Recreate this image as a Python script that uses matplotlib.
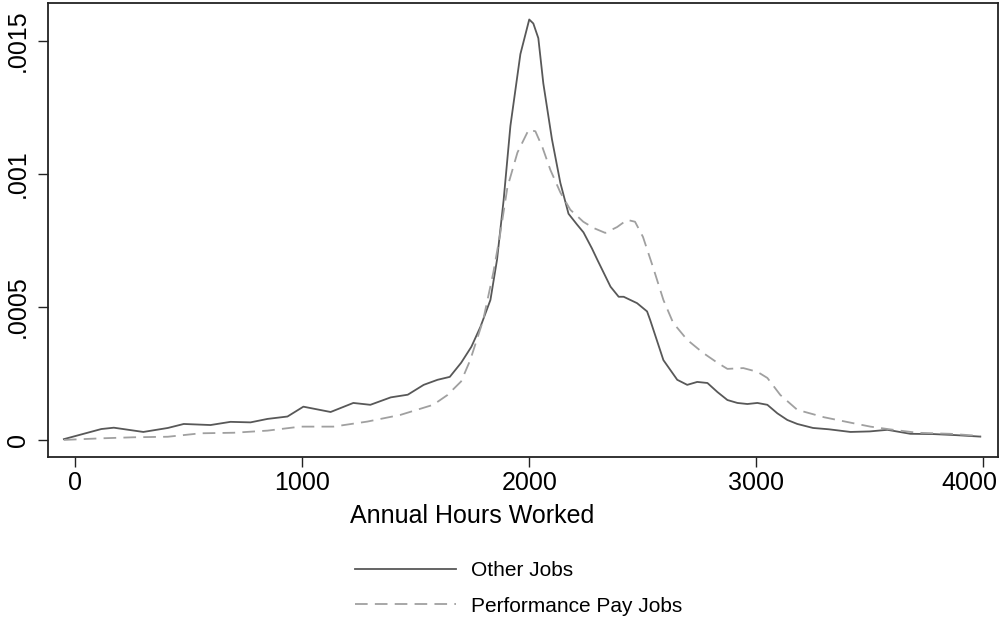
import matplotlib
matplotlib.use("Agg")
import matplotlib.pyplot as plt
from matplotlib.transforms import ScaledTranslation

plt.rcParams['font.family'] = ['Liberation Sans', 'DejaVu Sans']

# Kernel density estimates of annual hours worked
other_hours = [-50, 115, 170, 300, 408, 478, 596, 684, 772, 847, 935, 1005, 1125,
               1225, 1300, 1390, 1465, 1535, 1596, 1650, 1700, 1745, 1785, 1829,
               1858, 1887, 1917, 1961, 2000, 2018, 2040, 2062, 2100, 2137, 2173,
               2210, 2239, 2276, 2300, 2358, 2394, 2416, 2475, 2519, 2533, 2591,
               2652, 2696, 2740, 2785, 2829, 2873, 2917, 2961, 3005, 3049, 3093,
               3137, 3181, 3250, 3320, 3415, 3500, 3578, 3679, 3780, 3880, 3987]
other_density = [3e-6, 4.1e-5, 4.6e-5, 3.0e-5, 4.5e-5, 6.0e-5, 5.6e-5, 6.8e-5,
                 6.6e-5, 7.9e-5, 8.8e-5, 1.25e-4, 1.05e-4, 1.39e-4, 1.32e-4,
                 1.6e-4, 1.7e-4, 2.07e-4, 2.26e-4, 2.37e-4, 2.9e-4, 3.5e-4,
                 4.25e-4, 5.26e-4, 6.77e-4, 9.0e-4, 1.18e-3, 1.45e-3, 1.58e-3,
                 1.565e-3, 1.51e-3, 1.34e-3, 1.13e-3, 9.66e-4, 8.5e-4, 8.1e-4,
                 7.8e-4, 7.2e-4, 6.77e-4, 5.76e-4, 5.38e-4, 5.38e-4, 5.14e-4,
                 4.83e-4, 4.5e-4, 3.0e-4, 2.26e-4, 2.07e-4, 2.18e-4, 2.14e-4,
                 1.8e-4, 1.5e-4, 1.39e-4, 1.35e-4, 1.39e-4, 1.32e-4, 1.0e-4,
                 7.5e-5, 6.0e-5, 4.5e-5, 4.0e-5, 3.0e-5, 3.2e-5, 3.8e-5, 2.3e-5,
                 2.2e-5, 1.8e-5, 1.25e-5]

perf_hours = [-50, 113, 258, 408, 553, 698, 847, 992, 1137, 1287, 1432, 1577, 1640,
              1700, 1740, 1797, 1842, 1873, 1904, 1948, 1997, 2027, 2058, 2093,
              2137, 2181, 2238, 2282, 2335, 2387, 2431, 2466, 2501, 2545, 2591,
              2634, 2696, 2766, 2829, 2873, 2943, 3005, 3049, 3106, 3181, 3300,
              3415, 3503, 3604, 3710, 3855, 3987]
perf_density = [0, 6e-6, 1e-5, 1.2e-5, 2.5e-5, 2.7e-5, 3.5e-5, 5e-5, 5e-5, 6.9e-5,
                9.4e-5, 1.32e-4, 1.69e-4, 2.2e-4, 3.0e-4, 4.5e-4, 6.3e-4, 7.8e-4,
                9.5e-4, 1.08e-3, 1.165e-3, 1.16e-3, 1.10e-3, 1.015e-3, 9.3e-4,
                8.65e-4, 8.2e-4, 7.97e-4, 7.78e-4, 8.0e-4, 8.27e-4, 8.2e-4,
                7.63e-4, 6.5e-4, 5.26e-4, 4.4e-4, 3.76e-4, 3.27e-4, 2.9e-4,
                2.67e-4, 2.7e-4, 2.56e-4, 2.33e-4, 1.69e-4, 1.13e-4, 8.5e-5,
                6.5e-5, 5e-5, 3.8e-5, 2.7e-5, 2.3e-5, 1.5e-5]

x_ticks = [0, 1000, 2000, 3000, 4000]
x_tick_labels = ["0", "1000", "2000", "3000", "4000"]
y_ticks = [0, 0.0005, 0.001, 0.0015]
y_tick_labels = ["0", ".0005", ".001", ".0015"]

W, H = 1002, 620
fig = plt.figure(figsize=(W / 100, H / 100), dpi=100)
fig.patch.set_facecolor("white")

left, right, top, bottom = 48, 998, 3, 456.7
ax = fig.add_axes([left / W, 1 - bottom / H, (right - left) / W, (bottom - top) / H])

ax.plot(other_hours, other_density, color="#585858", lw=1.3,
        solid_joinstyle="round", label="Other Jobs")
ax.plot(perf_hours, perf_density, color="#a0a0a0", lw=1.3,
        dashes=(7.0, 4.0), label="Performance Pay Jobs")

ax.set_xlim(-120, 4065)
ax.set_ylim(-6.3e-5, 1.642e-3)

ax.set_xticks(x_ticks)
ax.set_xticklabels(x_tick_labels, fontsize=18)
ax.set_yticks(y_ticks)
ax.set_yticklabels(y_tick_labels, fontsize=18, rotation=90, va="center")

ax.tick_params(axis="both", direction="out", length=7.5, width=1.0, color="#222222")
ax.tick_params(axis="x", pad=3)
ax.tick_params(axis="y", pad=5.5)

# keep the last x tick label inside the canvas
last = ax.get_xticklabels()[-1]
last.set_transform(last.get_transform() + ScaledTranslation(-14 / 100, 0, fig.dpi_scale_trans))

for side in ["left", "right", "top", "bottom"]:
    ax.spines[side].set_linewidth(1.3)
    ax.spines[side].set_color("#222222")

fig.text(471.7 / W, 1 - 523.3 / H, "Annual Hours Worked", fontsize=18,
         ha="center", va="baseline")

leg = ax.legend(loc="upper left", bbox_to_anchor=(355 / W, 1 - 561 / H),
                bbox_transform=fig.transFigure, frameon=False, fontsize=15,
                handlelength=4.85, handletextpad=0.72, labelspacing=0.8,
                borderpad=0, borderaxespad=0)

fig.savefig("out.png", dpi=100, facecolor="white")
